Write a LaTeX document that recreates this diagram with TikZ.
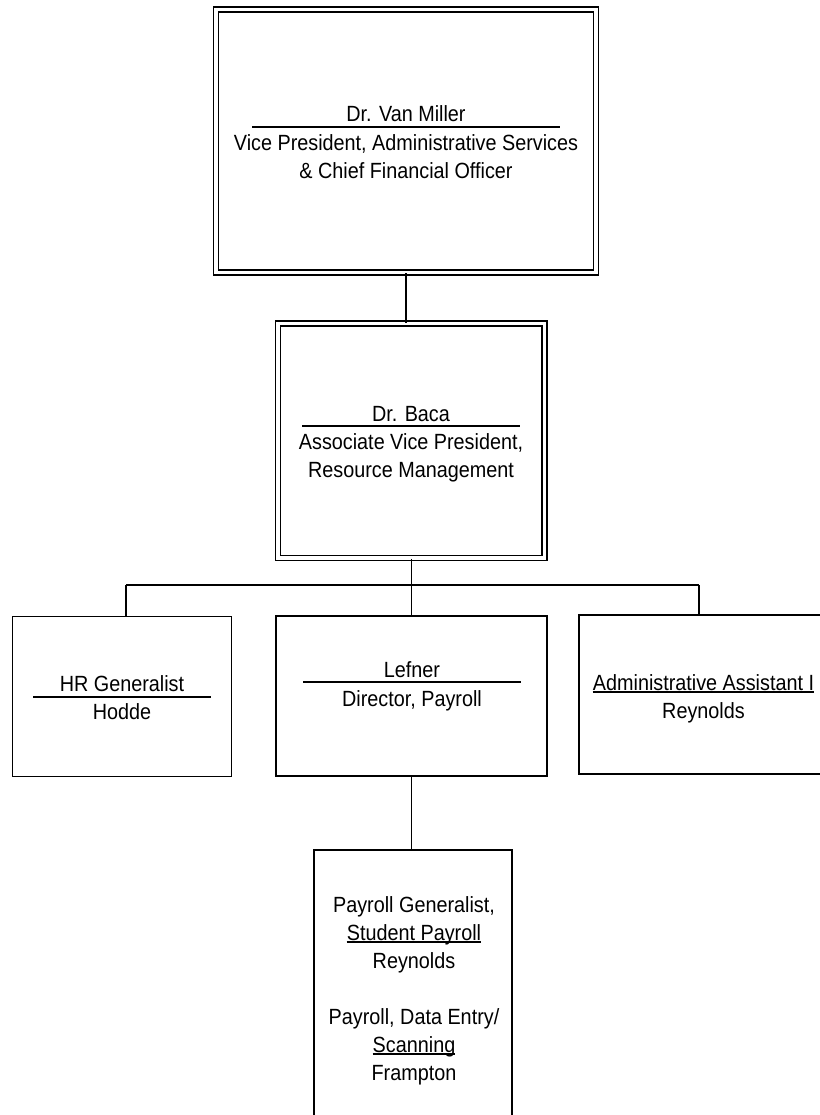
\documentclass[tikz,border=0pt]{standalone}
\usepackage{fontspec}
\setmainfont{Liberation Sans}[FakeStretch=0.9]
\begin{document}
\begin{tikzpicture}[x=1pt,y=-1pt,
  boxd/.style={draw, line width=1.8pt, double=white, double distance=3.2pt, inner sep=0pt},
  boxs/.style={draw, line width=1.9pt, inner sep=0pt},
  txt/.style={inner sep=0pt, anchor=base, font=\fontsize{22}{28}\selectfont},
  conn/.style={line width=1.5pt},
  rulel/.style={line width=1.6pt},
  uline/.style={line width=1.2pt}]
\useasboundingbox (0,0) rectangle (819,1115);

% boxes
\node[boxd, minimum width=380pt, minimum height=263pt] (top) at (406,141) {};
\node[boxd, minimum width=266.5pt, minimum height=234.5pt] (baca) at (411.25,440.75) {};
\node[boxs, minimum width=219pt, minimum height=160pt] (hr) at (122,696.5) {};
\node[boxs, minimum width=271pt, minimum height=160pt] (lef) at (411.5,696) {};
\node[boxs, minimum width=244pt, minimum height=159pt] (adm) at (701,694.5) {};
\node[boxs, minimum width=198pt, minimum height=300pt] (pay) at (413,1000) {};

% connectors
\coordinate (bus) at (411.5,585);
\coordinate (hrtop) at ([xshift=4pt]hr.north);
\draw[conn] (top.south) -- (top.south |- baca.north);
\draw[conn] (baca.south) -- (baca.south |- bus);
\draw[conn] (hrtop |- bus) -- ([xshift=-2pt]adm.north |- bus);
\draw[conn] (hrtop) -- (hrtop |- bus);
\draw[conn] (lef.north) -- (lef.north |- bus);
\draw[conn] ([xshift=-2pt]adm.north) -- ([xshift=-2pt]adm.north |- bus);
\draw[conn] (lef.south) -- (lef.south |- pay.north);

% top box text
\node[txt] (t1) at (406,122) {Dr. Van Miller};
\draw[rulel] (252,127) -- (560,127);
\node[txt] (t2) at (406,151) {Vice President, Administrative Services};
\node[txt] (t3) at (406,179) {\& Chief Financial Officer};

% Baca text
\node[txt] (b1) at (411,421) {Dr. Baca};
\draw[rulel] (302,426) -- (520,426);
\node[txt] (b2) at (411,449) {Associate Vice President,};
\node[txt] (b3) at (411,477) {Resource Management};

% HR text
\node[txt] (h1) at (122,691) {HR Generalist};
\draw[rulel] (33,697) -- (211,697);
\node[txt] (h2) at (122,719) {Hodde};

% Lefner text
\node[txt] (l1) at (412,677) {Lefner};
\draw[rulel] (303,682) -- (521,682);
\node[txt] (l2) at (412,706) {Director, Payroll};

% Admin text
\node[txt] (a1) at (703.5,690) {Administrative Assistant I};
\draw[uline] ([yshift=-2pt]a1.base west) -- ([yshift=-2pt]a1.base east);
\node[txt] (a2) at (703.5,718) {Reynolds};

% Payroll text
\node[txt] (p1) at (414,912) {Payroll Generalist,};
\node[txt] (p2) at (414,940) {Student Payroll};
\draw[uline] ([yshift=-2pt]p2.base west) -- ([yshift=-2pt]p2.base east);
\node[txt] (p3) at (414,968) {Reynolds};
\node[txt] (p4) at (414,1024) {Payroll, Data Entry/};
\node[txt] (p5) at (414,1052) {Scanning};
\draw[uline] ([yshift=-2pt]p5.base west) -- ([yshift=-2pt]p5.base east);
\node[txt] (p6) at (414,1080) {Frampton};
\end{tikzpicture}
\end{document}
